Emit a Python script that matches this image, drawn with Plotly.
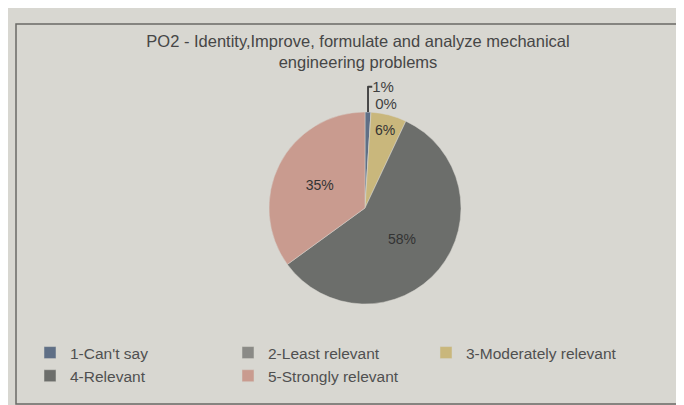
import plotly.graph_objects as go

categories = ["1-Can't say", "2-Least relevant", "3-Moderately relevant", "4-Relevant", "5-Strongly relevant"]
values = [1, 0, 6, 58, 35]
colors = ["#5f6f86", "#8a8a86", "#c9b77c", "#6c6e6b", "#c99b8f"]
text_pos = ["outside", "outside", "inside", "inside", "inside"]
title_lines = ["PO2 - Identity,Improve, formulate and analyze mechanical", "engineering problems"]

W, H = 684, 405
FONT = "Liberation Sans, Arial"
cx, cy, r = 357, 200, 96

fig = go.Figure()
fig.add_trace(go.Pie(
    labels=categories,
    values=values,
    marker=dict(colors=colors, line=dict(color="#d6d5cf", width=0.5)),
    sort=False,
    direction="clockwise",
    rotation=0,
    textinfo="percent",
    texttemplate="%{percent:.0%}",
    textposition=text_pos,
    insidetextfont=dict(color="#333333", size=14, family=FONT),
    outsidetextfont=dict(color="#3f3f3f", size=15, family=FONT),
    domain=dict(x=[(cx - r) / W, (cx + r) / W], y=[(H - cy - r) / H, (H - cy + r) / H]),
    showlegend=True,
    hoverinfo="label+percent",
))

fig.update_layout(
    width=W, height=H,
    margin=dict(l=0, r=0, t=0, b=0),
    paper_bgcolor="#d8d7d1",
    plot_bgcolor="#d8d7d1",
    font=dict(family=FONT, color="#4a4a4a", size=13),
    title=dict(text="<br>".join(title_lines), x=350 / W, xanchor="center", y=1 - 39 / H, yanchor="top",
               font=dict(size=16.5, color="#464646")),
    legend=dict(orientation="h", x=22 / W, xanchor="left", y=1 - 328 / H, yanchor="top",
                entrywidth=153, entrywidthmode="pixels", font=dict(size=15.5, color="#505050"),
                itemwidth=30, tracegroupgap=0, bgcolor="rgba(0,0,0,0)"),
    shapes=[dict(type="rect", xref="paper", yref="paper", x0=8 / W, x1=679 / W, y0=1 - 396 / H, y1=1 - 16 / H,
                 line=dict(color="#6a6a66", width=1.5), fillcolor="rgba(0,0,0,0)")],
)

fig.write_html("out.html")
